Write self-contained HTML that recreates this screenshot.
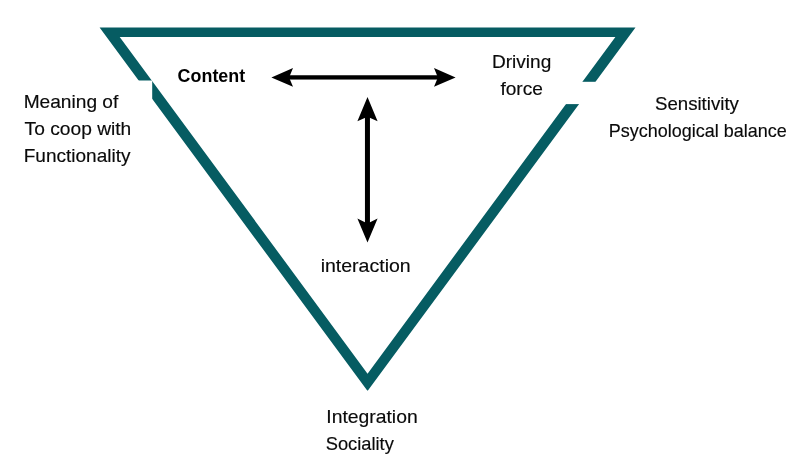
<!DOCTYPE html>
<html lang="en">
<head>
<meta charset="utf-8">
<title>Learning triangle</title>
<style>
  html, body { margin: 0; padding: 0; background: #ffffff; }
  body { width: 804px; height: 463px; overflow: hidden; position: relative; }
  svg { position: absolute; left: 0; top: 0; display: block; will-change: transform; }
  text { font-family: "Liberation Sans", sans-serif; font-size: 17.7px; fill: #0a0a0a; stroke: #0a0a0a; stroke-width: 0.15px; }
  .b { font-weight: bold; fill: #000000; stroke: none; }
</style>
</head>
<body>
<svg width="804" height="463" viewBox="0 0 804 463">
  <rect x="0" y="0" width="804" height="463" fill="#ffffff"/>
  <!-- triangle outline -->
  <path fill="#065c62" fill-rule="evenodd"
        d="M99.6 27.55 L635.5 27.55 L367.9 390.5 L367.2 390.5 Z M119.7 36.9 L615.4 36.9 L367.55 373.7 Z"/>
  <!-- white label boxes overlapping the outline -->
  <rect x="10" y="80.5" width="142.2" height="95" fill="#ffffff"/>
  <rect x="555" y="81.8" width="60" height="22.3" fill="#ffffff"/>

  <g fill="#000000">
    <!-- horizontal double arrow -->
    <rect x="289" y="75.25" width="149" height="4.3"/>
    <path d="M271.4 77.4 L293 68 L289.1 77.4 L293 86.8 Z"/>
    <path d="M455.6 77.4 L434 68 L437.9 77.4 L434 86.8 Z"/>
    <!-- vertical double arrow -->
    <rect x="364.95" y="116" width="5" height="108"/>
    <path d="M367.5 97 L377.6 121.2 L367.5 116.8 L357.4 121.2 Z"/>
    <path d="M367.5 242.6 L377.6 218.6 L367.5 223.4 L357.4 218.6 Z"/>
  </g>

  <text class="b" x="177.64" y="82.00" textLength="67.55" lengthAdjust="spacingAndGlyphs">Content</text>

  <text x="491.98" y="68.10" textLength="59.28" lengthAdjust="spacingAndGlyphs">Driving</text>
  <text x="500.43" y="94.90" textLength="42.46" lengthAdjust="spacingAndGlyphs">force</text>

  <text x="23.67" y="107.70" textLength="94.64" lengthAdjust="spacingAndGlyphs">Meaning of</text>
  <text x="24.59" y="134.90" textLength="106.71" lengthAdjust="spacingAndGlyphs">To coop with</text>
  <text x="23.69" y="161.50" textLength="106.76" lengthAdjust="spacingAndGlyphs">Functionality</text>

  <text x="654.97" y="109.70" textLength="83.96" lengthAdjust="spacingAndGlyphs">Sensitivity</text>
  <text x="608.77" y="137.20" textLength="177.93" lengthAdjust="spacingAndGlyphs">Psychological balance</text>

  <text x="320.65" y="271.90" textLength="90.08" lengthAdjust="spacingAndGlyphs">interaction</text>

  <text x="326.31" y="423.00" textLength="91.39" lengthAdjust="spacingAndGlyphs">Integration</text>
  <text x="325.69" y="449.50" textLength="68.13" lengthAdjust="spacingAndGlyphs">Sociality</text>
</svg>
</body>
</html>
